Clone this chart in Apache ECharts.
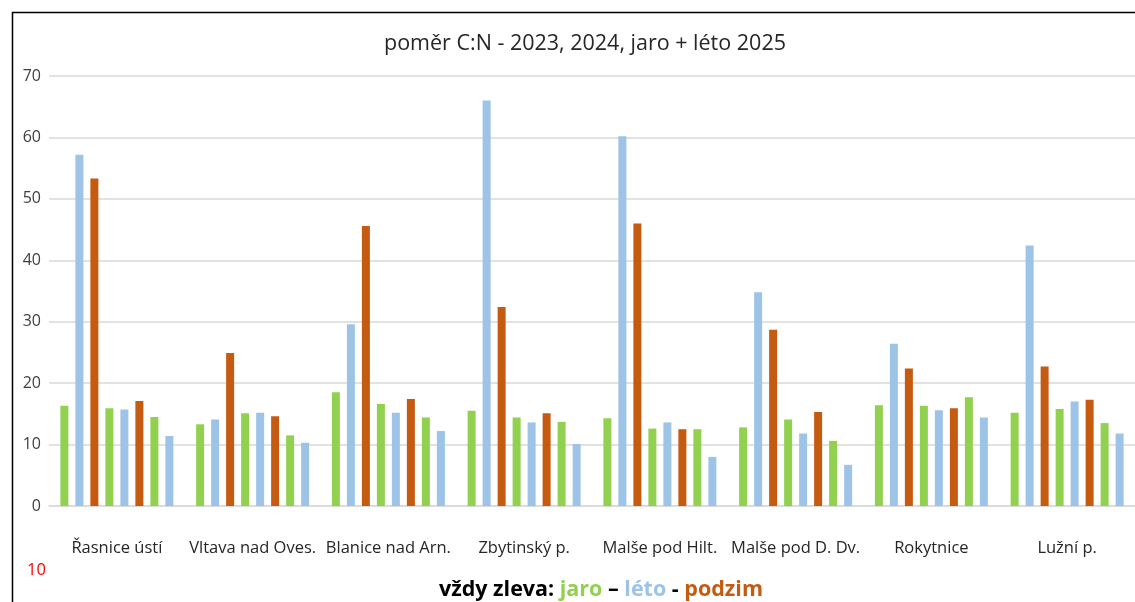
<!DOCTYPE html>
<html><head><meta charset="utf-8">
<script src="https://cdn.jsdelivr.net/npm/echarts@6/dist/echarts.min.js"></script>
<style>html,body{margin:0;padding:0;background:#fff}#c{width:1135px;height:602px}</style>
</head><body><div id="c"></div>
<script>
const categories = ["Řasnice ústí","Vltava nad Oves.","Blanice nad Arn.","Zbytinský p.","Malše pod Hilt.","Malše pod D. Dv.","Rokytnice","Lužní p."];
const seriesNames = ["jaro 2023","léto 2023","podzim 2023","jaro 2024","léto 2024","podzim 2024","jaro 2025","léto 2025"];
const jaro2023   = [16.3, 13.3, 18.5, 15.5, 14.3, 12.8, 16.4, 15.2];
const leto2023   = [57.2, 14.1, 29.6, 66.0, 60.2, 34.8, 26.4, 42.4];
const podzim2023 = [53.3, 24.9, 45.6, 32.4, 46.0, 28.7, 22.4, 22.7];
const jaro2024   = [15.9, 15.1, 16.6, 14.4, 12.6, 14.1, 16.3, 15.8];
const leto2024   = [15.7, 15.2, 15.2, 13.6, 13.6, 11.8, 15.6, 17.0];
const podzim2024 = [17.1, 14.6, 17.4, 15.1, 12.5, 15.3, 15.9, 17.3];
const jaro2025   = [14.5, 11.5, 14.4, 13.7, 12.5, 10.6, 17.7, 13.5];
const leto2025   = [11.4, 10.3, 12.2, 10.1, 8.0, 6.7, 14.4, 11.8];
const yTicks = [0, 10, 20, 30, 40, 50, 60, 70];

const GREEN = '#92D050', BLUE = '#9DC3E6', ORANGE = '#C55A11';
const allData = [jaro2023, leto2023, podzim2023, jaro2024, leto2024, podzim2024, jaro2025, leto2025];
const colors = [GREEN, BLUE, ORANGE, GREEN, BLUE, ORANGE, GREEN, BLUE];

const chart = echarts.init(document.getElementById('c'));
const font = '"Open Sans", "Noto Sans", sans-serif';
chart.setOption({
  animation: false,
  backgroundColor: '#fff',
  title: [{
    text: 'poměr C:N - 2023, 2024, jaro + léto 2025',
    left: 580, top: 28, textAlign: 'center',
    textStyle: {fontFamily: font, fontSize: 21.5, fontWeight: 'normal', color: '#262626'}
  }, {
    text: '{k|vždy zleva: }{g|jaro}{k| – }{b|léto}{k| - }{o|podzim}',
    left: 596, top: 574, textAlign: 'center',
    textStyle: {
      rich: {
        k: {fontFamily: font, fontSize: 21.5, fontWeight: 'bold', color: '#000'},
        g: {fontFamily: font, fontSize: 21.5, fontWeight: 'bold', color: GREEN},
        b: {fontFamily: font, fontSize: 21.5, fontWeight: 'bold', color: BLUE},
        o: {fontFamily: font, fontSize: 21.5, fontWeight: 'bold', color: ORANGE}
      }
    }
  }, {
    text: '10', left: 22, top: 557,
    textStyle: {fontFamily: font, fontSize: 16.5, fontWeight: 'normal', color: '#FF0000'}
  }],
  graphic: [{
    type: 'polyline', shape: {points: [[12.5, 602], [12.5, 12.5], [1135, 12.5]]},
    style: {stroke: '#000', lineWidth: 1.5, fill: null}
  }],
  grid: {left: 49, top: 76, width: 1088, height: 430, containLabel: false},
  xAxis: {
    type: 'category', data: categories,
    axisLine: {lineStyle: {color: '#D9D9D9', width: 1.5}},
    axisTick: {show: false},
    axisLabel: {interval: 0, margin: 34, fontFamily: font, fontSize: 16.5, color: '#262626'}
  },
  yAxis: {
    type: 'value', min: 0, max: 70, interval: 10,
    axisLine: {show: false}, axisTick: {show: false},
    axisLabel: {margin: 8, fontFamily: font, fontSize: 16, color: '#404040',
      formatter: v => yTicks.includes(v) ? String(v) : ''},
    splitLine: {lineStyle: {color: '#D9D9D9', width: 1.5}}
  },
  series: allData.map((d, i) => ({
    name: seriesNames[i], type: 'bar', data: d,
    barWidth: 8, barGap: '87.5%',
    itemStyle: {color: colors[i]}
  }))
});
</script></body></html>
